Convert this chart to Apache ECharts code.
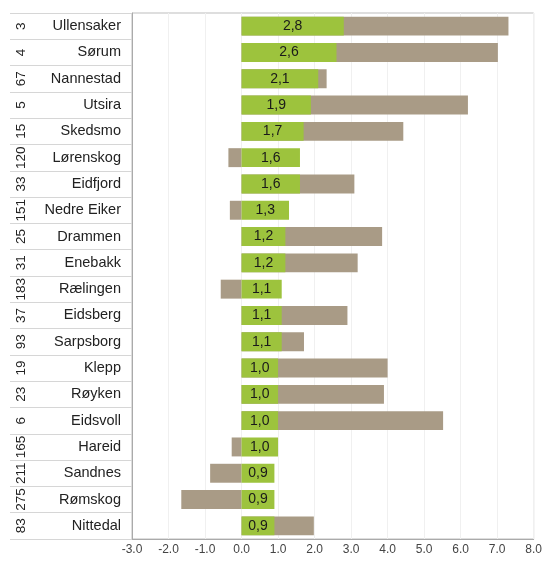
<!DOCTYPE html>
<html>
<head>
<meta charset="utf-8">
<script src="https://cdn.jsdelivr.net/npm/echarts@6/dist/echarts.min.js"></script>
<style>html,body{margin:0;padding:0;background:#fff}#c{width:545px;height:562px}</style>
</head>
<body>
<div id="c"></div>
<script>
var categories = ["Ullensaker","Sørum","Nannestad","Utsira","Skedsmo","Lørenskog","Eidfjord","Nedre Eiker","Drammen","Enebakk","Rælingen","Eidsberg","Sarpsborg","Klepp","Røyken","Eidsvoll","Hareid","Sandnes","Rømskog","Nittedal"];
var ranks = ["3","4","67","5","15","120","33","151","25","31","183","37","93","19","23","6","165","211","275","83"];
var greenValues = [2.8,2.6,2.1,1.9,1.7,1.6,1.6,1.3,1.2,1.2,1.1,1.1,1.1,1.0,1.0,1.0,1.0,0.9,0.9,0.9];
var brownValues = [7.31,7.02,2.33,6.2,4.43,-0.36,3.09,-0.32,3.85,3.18,-0.57,2.9,1.71,4.0,3.9,5.52,-0.27,-0.86,-1.65,1.98];
var xTicks = {min:-3, max:8, interval:1};

var chart = echarts.init(document.getElementById('c'), null, {renderer:'canvas'});
var FONT = 'Liberation Sans, Arial, sans-serif';
chart.setOption({
  animation:false,
  grid:{left:132, right:10, top:13, bottom:23, show:true, borderColor:'#bdbdbd', borderWidth:1},
  xAxis:{type:'value', min:xTicks.min, max:xTicks.max, interval:xTicks.interval,
    axisLine:{show:true, lineStyle:{color:'#aaa'}},
    axisTick:{show:false},
    splitLine:{show:true, lineStyle:{color:'#f0f0f0'}},
    axisLabel:{color:'#444', fontSize:12, fontFamily:FONT, margin:5, formatter:function(v){return v.toFixed(1);}}
  },
  yAxis:[{type:'category', data:categories, inverse:true, position:'left',
    axisLine:{show:true, onZero:false, lineStyle:{color:'#aaa'}},
    axisTick:{show:true, length:122, interval:0, lineStyle:{color:'#d6d6d6'}},
    axisLabel:{color:'#222', fontSize:14.5, fontFamily:FONT, margin:11, interval:0}
  },{type:'category', data:ranks, inverse:true, position:'left',
    axisLine:{show:false, onZero:false}, axisTick:{show:false},
    axisLabel:{color:'#222', fontSize:13.5, fontFamily:FONT, rotate:90, margin:104, interval:0}
  }],
  series:[
    {type:'bar', data:brownValues, yAxisIndex:0, barCategoryGap:'28%', barGap:'-100%',
     itemStyle:{color:'#a99b86'}, z:2},
    {type:'bar', data:greenValues, yAxisIndex:0, barCategoryGap:'28%', barGap:'-100%',
     itemStyle:{color:'#9dc33d'}, z:3,
     label:{show:true, position:'inside', color:'#1a1a1a', fontSize:14, fontFamily:FONT,
       formatter:function(p){return p.value.toFixed(1).replace('.',',');}}}
  ]
});
</script>
</body>
</html>
